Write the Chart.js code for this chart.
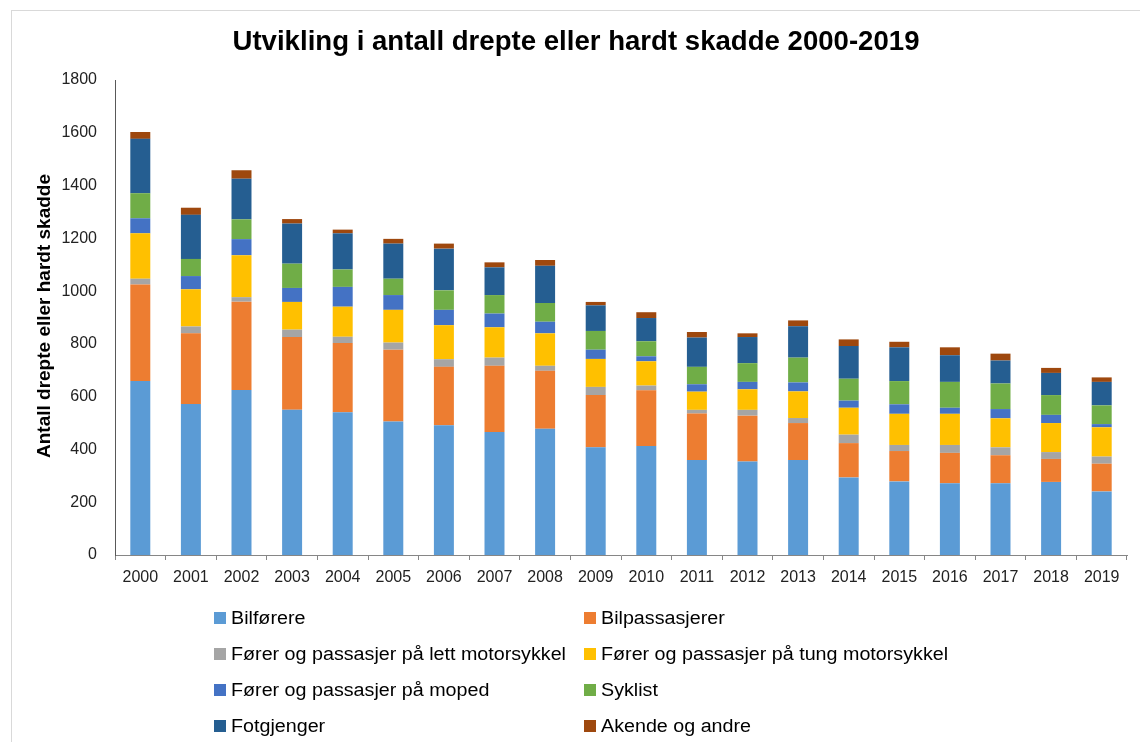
<!DOCTYPE html>
<html>
<head>
<meta charset="utf-8">
<script src="https://cdn.jsdelivr.net/npm/chart.js@4/dist/chart.umd.min.js"></script>
<style>
html,body{margin:0;padding:0;background:#fff;}
canvas{display:block;}
</style>
</head>
<body>
<canvas id="c" width="1140" height="742"></canvas>
<script>
const years = ['2000','2001','2002','2003','2004','2005','2006','2007','2008','2009','2010','2011','2012','2013','2014','2015','2016','2017','2018','2019'];
const bilforere    = [659,572,625,550,541,506,492,466,478,408,413,360,354,360,294,279,272,272,277,241];
const bilpassasjer = [366,268,335,276,262,272,221,251,220,198,211,176,174,140,130,115,115,106,87,105];
const lettMc       = [22,26,17,28,24,27,29,31,19,31,18,14,22,19,32,23,30,30,26,27];
const tungMc       = [172,141,159,105,114,124,129,115,123,106,92,69,78,101,102,118,118,110,110,111];
const moped        = [57,50,61,53,75,56,58,52,44,35,19,28,28,34,27,36,23,35,31,12];
const syklist      = [95,65,75,92,66,62,74,70,71,71,57,66,71,94,83,88,98,97,75,71];
const fotgjenger   = [206,167,154,152,137,133,158,105,141,97,88,111,99,119,124,128,101,87,84,89];
const akende       = [26,27,32,17,14,18,19,19,22,13,22,21,14,22,25,21,30,26,19,17];
const yTicks = [0,200,400,600,800,1000,1200,1400,1600,1800];

const seriesNames = ['Bilførere','Bilpassasjerer','Fører og passasjer på lett motorsykkel','Fører og passasjer på tung motorsykkel','Fører og passasjer på moped','Syklist','Fotgjenger','Akende og andre'];
const seriesData = [bilforere,bilpassasjer,lettMc,tungMc,moped,syklist,fotgjenger,akende];
const seriesColors = ['#5B9BD5','#ED7D31','#A5A5A5','#FFC000','#4472C4','#70AD47','#255E91','#9E480E'];

const titleText = 'Utvikling i antall drepte eller hardt skadde 2000-2019';
const yTitleText = 'Antall drepte eller hardt skadde';
const FONT = '"Liberation Sans", Arial, sans-serif';

// draw text with horizontal scale factor sx
function drawScaled(ctx, text, x, y, sx, align) {
  ctx.save();
  ctx.translate(x, y);
  ctx.scale(sx, 1);
  ctx.textAlign = align;
  ctx.fillText(text, 0, 0);
  ctx.restore();
}

const decor = {
  id: 'decor',
  beforeDraw(chart) {
    const ctx = chart.ctx;
    ctx.save();
    ctx.strokeStyle = '#d9d9d9';
    ctx.lineWidth = 1;
    ctx.strokeRect(11.5, 10.5, 1200, 900);
    ctx.restore();
  },
  afterDraw(chart) {
    const ctx = chart.ctx;
    ctx.save();
    ctx.fillStyle = '#000';
    ctx.textBaseline = 'middle';
    // title
    ctx.font = 'bold 27px ' + FONT;
    let w = ctx.measureText(titleText).width;
    drawScaled(ctx, titleText, 576, 43, 687 / w, 'center');
    // y title
    ctx.save();
    ctx.translate(45, 316);
    ctx.rotate(-Math.PI/2);
    ctx.font = 'bold 19px ' + FONT;
    w = ctx.measureText(yTitleText).width;
    drawScaled(ctx, yTitleText, 0, 0, 284 / w, 'center');
    ctx.restore();
    // legend
    ctx.font = '18px ' + FONT;
    const ref = ctx.measureText(seriesNames[2]).width;
    const sx = 335 / ref;
    const colX = [214, 584];
    const rowY = [618, 654, 690, 726];
    chart.data.datasets.forEach((ds, i) => {
      const col = i % 2, row = Math.floor(i / 2);
      const x = colX[col], y = rowY[row];
      ctx.fillStyle = ds.backgroundColor;
      ctx.fillRect(x, y - 6, 12, 12);
      ctx.fillStyle = '#000';
      drawScaled(ctx, ds.label, x + 17, y + 1, sx, 'left');
    });
    ctx.restore();
  }
};

new Chart(document.getElementById('c'), {
  type: 'bar',
  data: {
    labels: years,
    datasets: seriesNames.map((n, i) => ({
      label: n,
      data: seriesData[i],
      backgroundColor: seriesColors[i],
      borderWidth: 0,
      barPercentage: 0.395,
      categoryPercentage: 1.0
    }))
  },
  options: {
    responsive: false,
    animation: false,
    layout: { padding: { left: 0, right: 13, top: 80, bottom: 0 } },
    plugins: {
      legend: { display: false },
      title: { display: false },
      tooltip: { enabled: false }
    },
    scales: {
      x: {
        stacked: true,
        grid: { drawOnChartArea: false, drawTicks: true, tickLength: 5, color: '#868686', offset: true },
        border: { display: true, color: '#868686', width: 1 },
        ticks: { color: '#222', font: { family: FONT, size: 16 }, padding: 8, maxRotation: 0 },
        afterFit(scale) { scale.height = 187; }
      },
      y: {
        stacked: true,
        min: 0, max: 1800,
        afterBuildTicks(scale) { scale.ticks = yTicks.map(v => ({ value: v })); },
        grid: { display: false, drawTicks: false },
        border: { display: true, color: '#595959', width: 1 },
        ticks: { color: '#222', font: { family: FONT, size: 16 }, padding: 18, callback: (v) => String(v) },
        afterFit(scale) { scale.width = 115; }
      }
    }
  },
  plugins: [decor]
});
</script>
</body>
</html>
